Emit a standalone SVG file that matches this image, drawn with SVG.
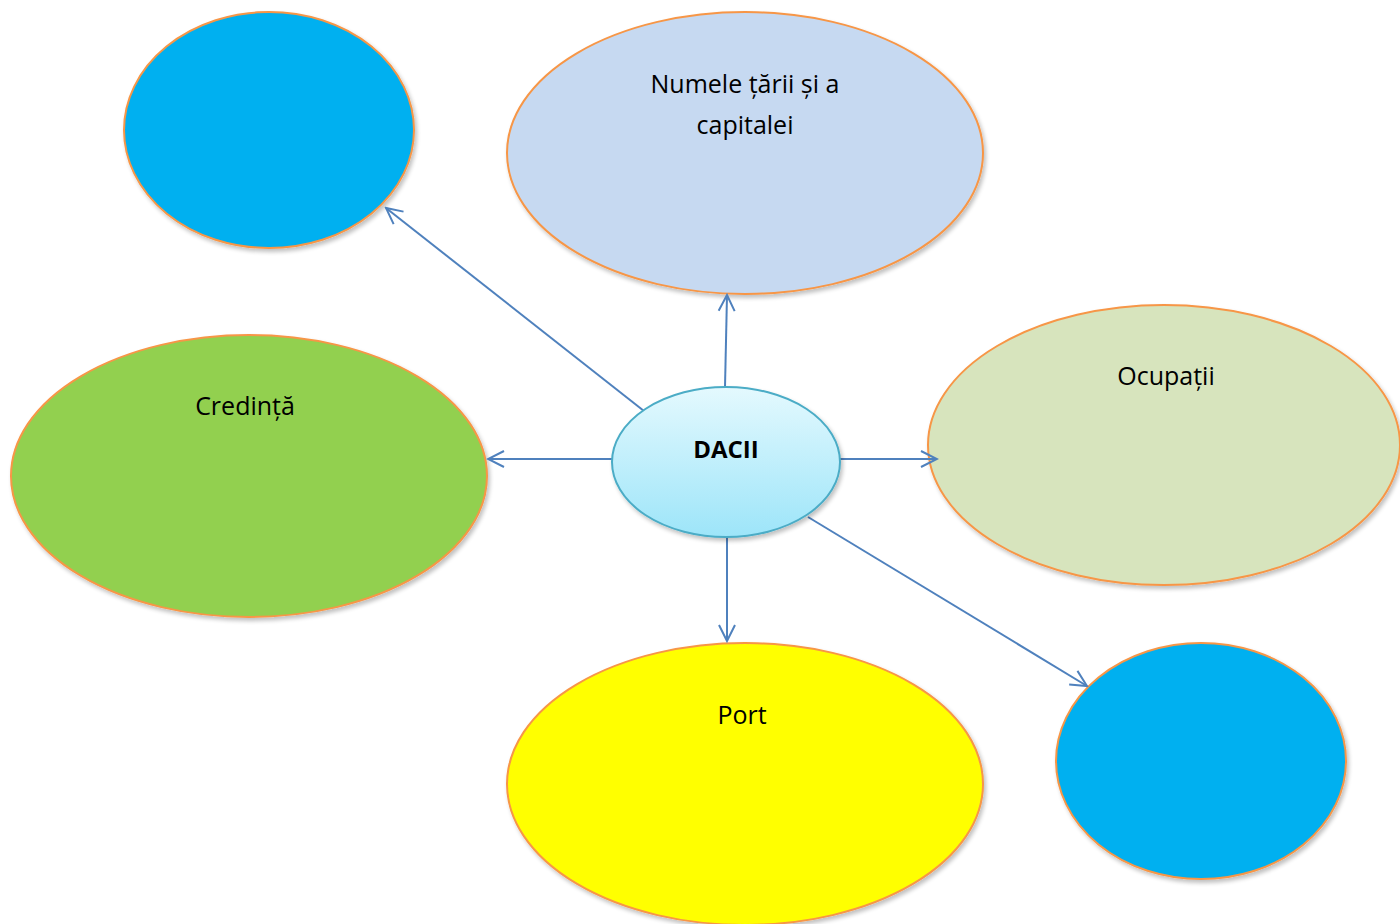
<svg xmlns="http://www.w3.org/2000/svg" width="1400" height="924" viewBox="0 0 1400 924">
<style>
.n{stroke:#f79646;stroke-width:2}
.t{font-family:"Open Sans","Liberation Sans",sans-serif;font-size:25px;fill:#000;text-anchor:middle}
.c{fill:none;stroke:#4f81bd;stroke-width:2}
</style>
<defs>
<linearGradient id="g" x1="0" y1="0" x2="0" y2="1">
<stop offset="0" stop-color="#e4f9fe"/>
<stop offset="1" stop-color="#9de5f9"/>
</linearGradient>
<marker id="a" viewBox="0 0 20 20" refX="18" refY="10" markerWidth="20" markerHeight="20" markerUnits="userSpaceOnUse" orient="auto">
<path d="M2,2 L18,10 L2,18" fill="none" stroke="#4f81bd" stroke-width="2"/>
</marker>
<filter id="s" x="-10%" y="-10%" width="125%" height="125%">
<feGaussianBlur in="SourceAlpha" stdDeviation="2"/>
<feOffset dx="2" dy="3"/>
<feComponentTransfer><feFuncA type="linear" slope="0.25"/></feComponentTransfer>
<feMerge><feMergeNode/><feMergeNode in="SourceGraphic"/></feMerge>
</filter>
</defs>
<rect width="1400" height="924" fill="#fff"/>
<g id="n-topleft"><ellipse class="n" cx="269" cy="130" rx="145" ry="118" fill="#00b0f0" filter="url(#s)"/></g>
<g id="n-nume"><ellipse class="n" cx="745" cy="153" rx="238" ry="141" fill="#c6d9f1" filter="url(#s)"/>
<text class="t" x="745" y="93">Numele țării și a</text>
<text class="t" x="745" y="134">capitalei</text></g>
<g id="n-ocupatii"><ellipse class="n" cx="1164" cy="445" rx="236" ry="140" fill="#d7e4bd" filter="url(#s)"/>
<text class="t" x="1166" y="385">Ocupații</text></g>
<g id="n-credinta"><ellipse class="n" cx="249" cy="476" rx="238" ry="141" fill="#92d050" filter="url(#s)"/>
<text class="t" x="245" y="415">Credință</text></g>
<g id="n-port"><ellipse class="n" cx="745" cy="784" rx="238" ry="141" fill="#ffff00" filter="url(#s)"/>
<text class="t" x="742" y="724">Port</text></g>
<g id="n-bottomright"><ellipse class="n" cx="1201" cy="761" rx="145" ry="118" fill="#00b0f0" filter="url(#s)"/></g>
<g id="connectors">
<line class="c" x1="644" y1="411" x2="386" y2="208" marker-end="url(#a)"/>
<line class="c" x1="725" y1="387" x2="727" y2="295" marker-end="url(#a)"/>
<line class="c" x1="612" y1="459" x2="488" y2="459" marker-end="url(#a)"/>
<line class="c" x1="840" y1="459" x2="937" y2="459" marker-end="url(#a)"/>
<line class="c" x1="727" y1="538" x2="727" y2="641" marker-end="url(#a)"/>
<line class="c" x1="808" y1="517" x2="1087" y2="686" marker-end="url(#a)"/>
</g>
<g id="n-dacii"><ellipse cx="726" cy="462" rx="114" ry="75" fill="url(#g)" stroke="#4bacc6" stroke-width="2" filter="url(#s)"/>
<text x="726" y="458" style="font-family:'Open Sans','Liberation Sans',sans-serif;font-size:24px;font-weight:bold;text-anchor:middle">DACII</text></g>
</svg>
